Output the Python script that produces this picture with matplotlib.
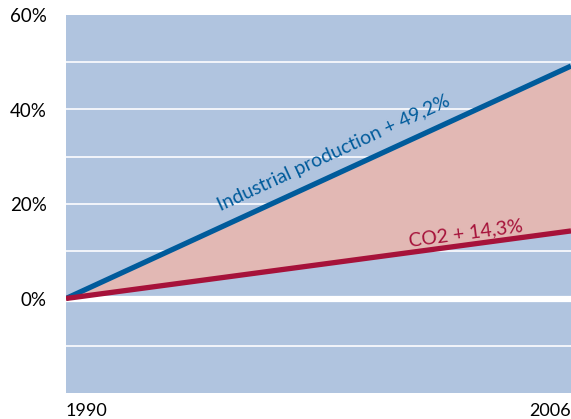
import numpy as np
import matplotlib
matplotlib.use("Agg")
import matplotlib.pyplot as plt

# Growth since 1990 (percent)
years = [1990, 2006]
industrial = [0.0, 49.2]
co2 = [0.0, 14.3]
industrial_label = "Industrial production + 49,2%"
co2_label = "CO2 + 14,3%"
y_ticks = [0, 20, 40, 60]
y_tick_labels = ["0%", "20%", "40%", "60%"]
grid_levels = [-10, 10, 20, 30, 40, 50]

BG = "#b0c4df"
FILL = "#e2b8b4"
BLUE = "#005b9b"
RED = "#a6123a"

plt.rcParams["font.family"] = ["Lato", "DejaVu Sans"]

fig = plt.figure(figsize=(5.71, 4.19), dpi=100)
ax = fig.add_axes([66 / 571, 26 / 419, 1 - 66 / 571, 378 / 419])
ax.set_facecolor(BG)
ax.set_xlim(years[0], years[-1])
ax.set_ylim(-20, 60)
for s in ax.spines.values():
    s.set_visible(False)

for g in grid_levels:
    ax.axhline(g, color="#f2f5fa", lw=1.4, zorder=1)
ax.axhline(0, color="white", lw=4.5, zorder=2)

ax.fill_between(years, co2, industrial, color=FILL, lw=0, zorder=3)
ax.plot(years, industrial, color=BLUE, lw=3.8, solid_capstyle="butt", zorder=4)
ax.plot(years, co2, color=RED, lw=3.8, solid_capstyle="butt", zorder=4)

ax.set_yticks(y_ticks)
ax.set_yticklabels(y_tick_labels, fontsize=13.5)
ax.set_xticks(years)
ax.set_xticklabels([str(y) for y in years], fontsize=13)
ax.tick_params(length=0)
ax.tick_params(axis="y", pad=14)
ax.tick_params(axis="x", pad=7)
xl = ax.get_xticklabels()
xl[0].set_ha("left")
xl[1].set_ha("right")


def line_label(xs, ys, frac, text, color, offset_px, size):
    p0 = ax.transData.transform((xs[0], ys[0]))
    p1 = ax.transData.transform((xs[1], ys[1]))
    ang = np.degrees(np.arctan2(p1[1] - p0[1], p1[0] - p0[0]))
    x = xs[0] + frac * (xs[1] - xs[0])
    y = ys[0] + frac * (ys[1] - ys[0])
    th = np.radians(ang)
    d = offset_px * 72 / fig.dpi
    ax.annotate(text, (x, y), xytext=(-np.sin(th) * d, np.cos(th) * d),
                textcoords="offset points", rotation=ang,
                rotation_mode="anchor", ha="center", va="baseline",
                color=color, fontsize=size, zorder=5)


line_label(years, industrial, 0.547, industrial_label, BLUE, 15, 14)
line_label(years, co2, 0.795, co2_label, RED, 6, 14)

fig.savefig("out.png", dpi=100)
